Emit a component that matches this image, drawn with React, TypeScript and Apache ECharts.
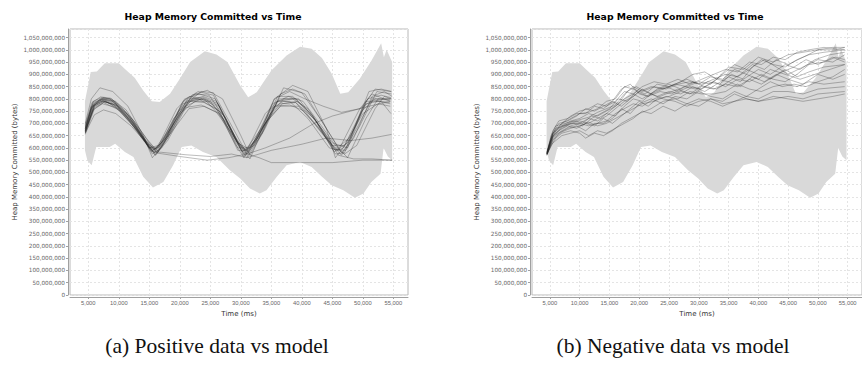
import React, { useEffect, useRef } from "react";
import * as echarts from "echarts";

const TITLE = "Heap Memory Committed vs Time";
const X_NAME = "Time (ms)";
const Y_NAME = "Heap Memory Committed (bytes)";
const CAPTIONS = ["(a) Positive data vs model", "(b) Negative data vs model"];
const X_TICKS = [5000, 10000, 15000, 20000, 25000, 30000, 35000, 40000, 45000, 50000, 55000];

// values in millions of bytes
const bandUpper = [[4450,790],[5400,910],[6400,912],[7700,945],[10000,945],[11000,922],[12600,886],[14000,834],[15400,790],[16700,787],[18400,821],[20000,882],[21700,950],[24100,994],[26000,981],[27800,950],[29900,855],[31200,807],[32600,827],[35000,916],[37500,977],[39700,1013],[41600,1004],[43300,967],[44900,902],[46300,821],[47600,827],[49500,882],[51400,956],[53000,1027],[53450,970],[53900,1000],[54800,950]];
const bandLower = [[4450,590],[4850,549],[5550,529],[6300,604],[8500,604],[9400,617],[11000,583],[12400,563],[14000,482],[15600,438],[17300,461],[18900,529],[20300,604],[21900,610],[23800,583],[26000,563],[28200,509],[29900,475],[31500,434],[33100,414],[34200,427],[35900,482],[37500,529],[39700,543],[41600,522],[43300,482],[44900,448],[46800,427],[48700,397],[50100,414],[51400,461],[52900,495],[53400,600],[54100,565],[54800,550]];

const positiveRuns = [
  [[4500,670],[5500,760],[7000,800],[8500,800],[11000,740],[13500,650],[15500,590],[17000,620],[20000,740],[22500,790],[25000,790],[28000,690],[30500,590],[32000,620],[35000,760],[37000,790],[39000,785],[42000,700],[45500,590],[47500,620],[50500,780],[52500,790],[54500,780]],
  [[4500,680],[5800,780],[7500,805],[9000,795],[12000,720],[14500,630],[16200,585],[18000,640],[21000,780],[23500,830],[25500,825],[28500,690],[31000,575],[33000,640],[36500,820],[38500,840],[40500,820],[43500,700],[46500,580],[48500,640],[51500,810],[53500,830],[54800,810]],
  [[4500,660],[6000,735],[7500,755],[9500,740],[12000,690],[14500,620],[16000,595],[18500,660],[21500,760],[24000,770],[26500,740],[29500,620],[31000,600],[34000,700],[36500,770],[39500,770],[42500,690],[45000,610],[47000,610],[50000,740],[52500,780],[54500,770]],
  [[4500,700],[5500,800],[6900,845],[9000,830],[11500,770],[14000,650],[15500,560],[17500,620],[20500,780],[23000,800],[26000,760],[29000,620],[30500,560],[33000,650],[35500,800],[38500,855],[41000,830],[44000,680],[45500,560],[48000,640],[51000,830],[53000,840],[54700,830]],
  [[4500,675],[5500,770],[6800,795],[8000,790],[10500,745],[13000,670],[15000,600],[16500,610],[19500,760],[21500,810],[24000,800],[27000,720],[29500,590],[31000,590],[34000,740],[36000,790],[38000,790],[41000,720],[44500,600],[46000,590],[49500,760],[51500,820],[54500,790]],
  [[4500,665],[6000,775],[7500,795],[9500,780],[12500,710],[15000,620],[16500,585],[19000,690],[22000,815],[24500,835],[27000,800],[30000,650],[31500,570],[34000,680],[37000,845],[40000,825],[43000,720],[46000,600],[47500,560],[50500,720],[52500,800],[54600,800]],
  [[4500,690],[5800,790],[7200,805],[8800,800],[11000,750],[13500,660],[15500,575],[17000,600],[20000,760],[22500,820],[24800,815],[27500,720],[30000,600],[31500,555],[34500,730],[37000,800],[39500,800],[42500,700],[45500,575],[47000,580],[50000,770],[52000,840],[54600,830]],
  [[4500,655],[6000,760],[7800,790],[10000,760],[12500,690],[15000,600],[16500,600],[19000,720],[21800,790],[24000,785],[26500,750],[29500,600],[31500,600],[34500,720],[36500,780],[39000,785],[42000,720],[45000,620],[47500,600],[50500,790],[53000,790],[54600,740]],
  [[4500,680],[5500,765],[7000,790],[9000,780],[11500,720],[14000,640],[16000,570],[18000,630],[21000,765],[23500,775],[26000,745],[28500,660],[30500,575],[32500,630],[35500,770],[38000,775],[40500,750],[44000,640],[46500,570],[49000,680],[51500,800],[54500,800]],
  [[4500,670],[6000,780],[7500,800],[9500,790],[12000,725],[14500,640],[16000,595],[18000,650],[21000,790],[23800,810],[26000,790],[29000,640],[30800,590],[33500,660],[36000,810],[38500,810],[41500,740],[45000,610],[47000,575],[49000,610],[52000,760],[53500,810],[54700,800]],
  [[4500,665],[6000,770],[7500,790],[9500,775],[12500,700],[15000,600],[16000,580],[20000,565],[24500,550],[28000,560],[31000,575],[33000,560],[35000,540],[40000,540],[45000,540],[50000,550],[54800,550]],
  [[4500,668],[6000,765],[7500,785],[10000,755],[13000,670],[15500,585],[17000,582],[21000,572],[25000,565],[28500,575],[31000,560],[35000,590],[40000,615],[44000,640],[48000,630],[51500,640],[54700,655]],
  [[4500,685],[5800,785],[7300,800],[9000,790],[11500,735],[14000,645],[15800,580],[17500,630],[20500,790],[23000,830],[25500,815],[28000,700],[30500,565],[32500,640],[35500,800],[38000,830],[40500,800],[43500,770],[46500,745],[49500,760],[52000,800],[54500,795]],
  [[4500,660],[5800,755],[7300,780],[9500,765],[12000,700],[14500,615],[16000,570],[18000,640],[21000,770],[23500,800],[26000,770],[29000,630],[31000,560],[33500,660],[36000,790],[38500,800],[41000,760],[44000,650],[46000,570],[48500,555],[51500,555],[54800,550]],
  [[4500,672],[6000,770],[7500,790],[9500,775],[12000,710],[14500,625],[16000,590],[18500,680],[21500,790],[24000,800],[26500,770],[29500,620],[31000,575],[34000,600],[38000,640],[42000,700],[45000,730],[48000,750],[51000,770],[54500,790]],
  [[4500,662],[5700,770],[7200,798],[9200,788],[11800,720],[14200,635],[15800,590],[17800,660],[20800,800],[23200,820],[25800,800],[28200,680],[30200,585],[32200,610],[35200,780],[37800,810],[40200,790],[43200,690],[45800,600],[47800,640],[50800,800],[53000,815],[54600,805]],
  [[4500,695],[5600,785],[7000,808],[8600,803],[11200,755],[13800,655],[15300,585],[16800,610],[19800,750],[22300,800],[24500,795],[27300,730],[29800,610],[31300,580],[34300,710],[36800,780],[39300,790],[42300,710],[45300,585],[46800,600],[49800,750],[51800,795],[54400,785]],
  [[4500,678],[5900,775],[7400,792],[9700,770],[12300,700],[14800,610],[16300,580],[18300,670],[21300,800],[23900,805],[26300,780],[29300,625],[31200,585],[33800,690],[36300,800],[39000,800],[41800,730],[45200,595],[47200,590],[49500,690],[52300,830],[54700,820]],
];

const negativeRuns = [
  [[4500,575],[5200,630],[6000,670],[7000,700],[8500,720],[10000,740],[11500,745],[13000,760],[14500,790],[16000,800],[17500,850],[19000,840],[21000,820],[23000,860],[25000,850],[27000,870],[29000,900],[31000,910],[33000,880],[35000,930],[37500,920],[40000,970],[42500,950],[45000,980],[47500,990],[50000,1000],[52500,1010],[54500,1010]],
  [[4500,580],[5200,640],[6000,680],[7500,690],[9000,700],[10500,690],[12000,720],[13500,740],[15000,760],[16500,800],[18000,790],[19500,830],[21500,810],[23500,830],[25500,820],[27500,850],[29500,840],[31500,870],[33500,860],[35500,900],[37500,880],[40000,920],[42000,900],[44500,940],[47000,920],[49500,960],[52000,980],[54500,990]],
  [[4500,570],[5200,610],[6000,640],[7000,660],[8500,670],[10000,660],[11000,640],[12500,660],[14000,650],[15500,670],[17000,700],[18500,720],[20000,740],[22000,760],[24000,790],[26000,800],[28000,780],[30000,800],[32000,790],[34000,770],[36000,790],[38000,800],[40000,790],[42500,800],[45000,810],[47500,800],[50000,820],[54500,830]],
  [[4500,575],[5200,650],[6000,690],[7500,700],[9000,710],[10500,700],[12000,730],[13500,720],[15000,750],[16500,780],[18000,830],[19500,850],[21000,830],[23000,810],[25000,830],[27000,820],[29000,850],[31000,830],[33000,860],[35000,890],[37000,870],[39000,930],[41000,960],[43000,930],[45000,900],[47500,930],[50000,960],[52500,950],[54500,980]],
  [[4500,580],[5500,660],[6500,700],[8000,710],[9500,730],[11000,760],[12500,750],[14000,770],[15500,790],[17000,770],[18500,800],[20000,830],[22000,850],[24000,840],[26000,860],[28000,880],[30000,860],[32000,890],[34000,880],[36000,920],[38000,900],[40000,880],[42000,920],[44500,900],[47000,880],[49500,900],[52000,920],[54500,940]],
  [[4500,575],[5500,630],[6500,660],[8000,680],[9500,690],[11000,670],[12500,700],[14000,700],[15500,720],[17000,760],[18500,740],[20000,780],[22000,800],[24000,780],[26000,810],[28000,800],[30000,830],[32000,810],[34000,800],[36000,830],[38000,810],[40000,800],[42500,830],[45000,830],[47500,820],[50000,840],[54500,850]],
  [[4500,585],[5500,670],[6500,710],[8000,720],[9500,740],[11000,740],[12500,770],[14000,760],[15500,790],[17000,840],[18500,860],[20000,820],[21500,810],[23000,840],[25000,860],[27000,840],[29000,870],[31000,850],[33000,880],[35000,870],[37000,900],[39000,940],[41000,920],[43000,960],[45000,940],[47500,970],[50000,1000],[53000,1000],[54500,1010]],
  [[4500,570],[5500,640],[6500,670],[8000,690],[9500,680],[11000,700],[12500,690],[14000,720],[15500,700],[17000,730],[18500,760],[20000,790],[21500,770],[23000,800],[25000,810],[27000,830],[29000,820],[31000,850],[33000,840],[35000,870],[37000,850],[39000,890],[41000,870],[43000,900],[45000,880],[47500,860],[50000,900],[52500,880],[54500,900]],
  [[4500,575],[5500,650],[7000,680],[8500,700],[10000,710],[11500,700],[13000,720],[14500,740],[16000,730],[17500,770],[19000,800],[20500,790],[22000,820],[24000,800],[26000,790],[28000,770],[30000,790],[32000,800],[34000,780],[36000,790],[38000,810],[40000,840],[42000,870],[44000,850],[46000,860],[48000,850],[50000,870],[52500,890],[54500,920]],
  [[4500,580],[5500,660],[7000,690],[8500,710],[10000,720],[11500,740],[13000,730],[14500,750],[16000,770],[17500,800],[19000,820],[20500,800],[22500,830],[24500,850],[26500,830],[28500,850],[30500,840],[32500,870],[34500,850],[36500,880],[38500,870],[40500,900],[42500,880],[44500,870],[46500,900],[48500,940],[51000,950],[53000,970],[54500,960]],
  [[4500,575],[5500,620],[7000,650],[8500,660],[10000,670],[11500,650],[13000,670],[14500,660],[16000,680],[17500,700],[19000,720],[20500,750],[22000,740],[24000,770],[26000,750],[28000,780],[30000,770],[32000,800],[34000,790],[36000,820],[38000,800],[40000,790],[42500,810],[45000,800],[47500,790],[50000,800],[52500,810],[54500,820]],
  [[4500,578],[5500,655],[7000,690],[8500,700],[10000,700],[11500,720],[13000,710],[14500,730],[16000,760],[17500,790],[19000,810],[20500,840],[22000,820],[24000,840],[26000,860],[28000,850],[30000,870],[32000,860],[34000,900],[36000,940],[38000,920],[40000,900],[42000,880],[44000,910],[46000,930],[48000,960],[50000,940],[52500,970],[54500,950]],
  [[4500,572],[5500,645],[7000,670],[8500,690],[10000,700],[11500,690],[13000,700],[14500,710],[16000,740],[17500,760],[19000,780],[20500,770],[22500,800],[24500,820],[26500,840],[28500,820],[30500,850],[32500,840],[34500,860],[36500,850],[38500,880],[40500,860],[42500,890],[44500,920],[46500,890],[48500,910],[51000,930],[54500,940]],
  [[4500,582],[5500,660],[7000,700],[8500,730],[10000,750],[11500,760],[13000,780],[14500,770],[16000,790],[17500,830],[19000,820],[20500,850],[22500,870],[24500,860],[26500,880],[28500,860],[30500,880],[32500,900],[34500,920],[36500,910],[38500,950],[40500,940],[42500,970],[44500,960],[46500,990],[48500,1000],[51000,1010],[54500,1000]],
  [[4500,576],[5500,648],[7000,685],[8500,705],[10000,715],[11500,725],[13000,745],[14500,760],[16000,775],[17500,820],[19000,850],[20500,830],[22500,850],[24500,840],[26500,860],[28500,870],[30500,860],[32500,880],[34500,900],[36500,890],[38500,920],[40500,960],[42500,940],[44500,930],[46500,960],[48500,980],[51000,990],[54500,1000]],
  [[4500,573],[5500,635],[7000,665],[8500,680],[10000,690],[11500,705],[13000,690],[14500,700],[16000,720],[17500,740],[19000,760],[20500,780],[22500,790],[24500,810],[26500,800],[28500,830],[30500,820],[32500,820],[34500,830],[36500,860],[38500,840],[40500,830],[42500,850],[44500,860],[46500,850],[48500,870],[51000,860],[54500,870]],
];

const PANEL_SHIFT = 462;
const GRID_LEFT = 70;
const GRID_TOP = 29;
const GRID_W = 338;
const GRID_H = 266;

const fmt = (v: number) => Math.round(v * 1000000).toLocaleString("en-US");

export default function App() {
  const ref = useRef<HTMLDivElement>(null);
  useEffect(() => {
    if (!ref.current) return;
    const chart = echarts.init(ref.current, undefined, { renderer: "svg" });
    const bandPolygon = [...bandUpper, ...bandLower.slice().reverse()];
    const panels = [positiveRuns, negativeRuns];
    const grids: any[] = [];
    const xAxes: any[] = [];
    const yAxes: any[] = [];
    const series: any[] = [];
    const graphics: any[] = [];
    panels.forEach((runs, i) => {
      const left = GRID_LEFT + i * PANEL_SHIFT;
      grids.push({ left, top: GRID_TOP, width: GRID_W, height: GRID_H, show: true, borderColor: "#b8b8b8", borderWidth: 1, backgroundColor: "#ffffff" });
      xAxes.push({
        type: "value", gridIndex: i, min: 2000, max: 57400, offset: 2,
        axisLine: { show: true, onZero: false, lineStyle: { color: "#a0a0a0", width: 1 } },
        axisTick: { show: true, length: 2, customValues: X_TICKS, lineStyle: { color: "#a0a0a0" } },
        axisLabel: { customValues: X_TICKS, formatter: (v: number) => v.toLocaleString("en-US"), fontSize: 5.8, fontFamily: "Liberation Sans", color: "#666", margin: 3 },
        splitLine: { show: true, lineStyle: { color: "#e4e4e4", type: [2, 2], width: 1 } },
        name: X_NAME, nameLocation: "middle", nameGap: 13,
        nameTextStyle: { fontSize: 7, fontFamily: "DejaVu Sans", color: "#333" },
      });
      yAxes.push({
        type: "value", gridIndex: i, min: 0, max: 1085, interval: 50, offset: 2,
        axisLine: { show: true, lineStyle: { color: "#a0a0a0", width: 1 } },
        axisTick: { show: true, length: 2, lineStyle: { color: "#a0a0a0" } },
        axisLabel: { formatter: fmt, fontSize: 5.7, fontFamily: "DejaVu Sans", color: "#666", margin: 3, showMaxLabel: false },
        splitLine: { show: true, lineStyle: { color: "#e4e4e4", type: [2, 2], width: 1 } },
        name: Y_NAME, nameLocation: "middle", nameGap: 50,
        nameTextStyle: { fontSize: 7, fontFamily: "DejaVu Sans", color: "#333" },
      });
      series.push({
        type: "custom", xAxisIndex: i, yAxisIndex: i, silent: true, z: 1,
        data: bandPolygon,
        renderItem: (params: any, api: any) => {
          if (params.dataIndex !== 0) return null;
          const pts = bandPolygon.map((p) => api.coord(p));
          return { type: "polygon", shape: { points: pts }, style: { fill: "#d9d9d9" } };
        },
      });
      runs.forEach((run) => {
        series.push({
          type: "line", xAxisIndex: i, yAxisIndex: i, data: run, showSymbol: false, silent: true, z: 3,
          lineStyle: { width: 0.6, color: "rgba(35,35,35,0.5)" },
        });
      });
      graphics.push({
        type: "text", x: 213 + i * PANEL_SHIFT, y: 16.5,
        style: { text: TITLE, font: "bold 9.3px 'DejaVu Sans'", fill: "#000", textAlign: "center", textVerticalAlign: "middle", align: "center", verticalAlign: "middle" },
      });
      graphics.push({
        type: "text", x: 217 + i * 456, y: 346,
        style: { text: CAPTIONS[i], font: "21.5px 'Liberation Serif'", fill: "#111", textAlign: "center", textVerticalAlign: "middle", align: "center", verticalAlign: "middle" },
      });
    });
    chart.setOption({
      animation: false,
      backgroundColor: "#ffffff",
      grid: grids,
      xAxis: xAxes,
      yAxis: yAxes,
      series,
      graphic: graphics,
    });
    return () => chart.dispose();
  }, []);
  return <div ref={ref} style={{ position: "absolute", left: 0, top: 0, width: 862, height: 365, background: "#fff" }} />;
}
